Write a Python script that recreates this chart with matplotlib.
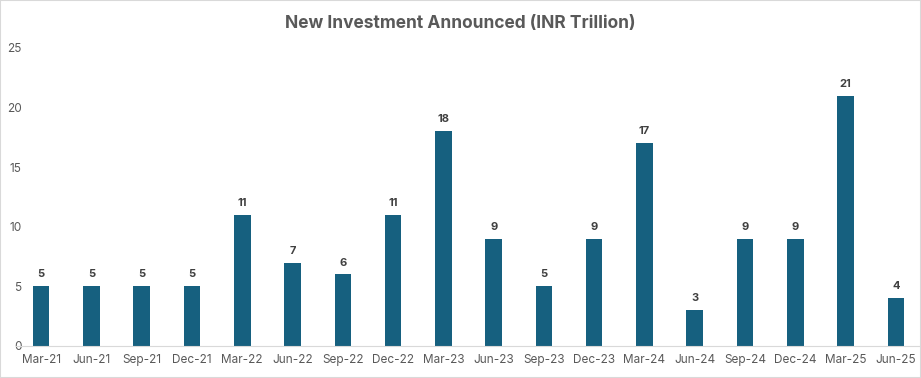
import matplotlib.pyplot as plt
from matplotlib.patches import Rectangle

plt.rcParams['font.family'] = ['Inter', 'DejaVu Sans']

quarters = ['Mar-21', 'Jun-21', 'Sep-21', 'Dec-21', 'Mar-22', 'Jun-22', 'Sep-22', 'Dec-22',
            'Mar-23', 'Jun-23', 'Sep-23', 'Dec-23', 'Mar-24', 'Jun-24', 'Sep-24', 'Dec-24',
            'Mar-25', 'Jun-25']
investment = [5, 5, 5, 5, 11, 7, 6, 11, 18, 9, 5, 9, 17, 3, 9, 9, 21, 4]
y_ticks = [0, 5, 10, 15, 20, 25]

bar_color = '#16607f'
text_grey = '#595959'

fig = plt.figure(figsize=(9.21, 3.78), dpi=100)
ax = fig.add_axes([16 / 921, 32 / 378, 905 / 921, 298 / 378])

x = range(len(quarters))
bars = ax.bar(x, investment, width=0.33, color=bar_color)
for b, v in zip(bars, investment):
    ax.annotate(str(v), (b.get_x() + b.get_width() / 2, v), xytext=(0, 5),
                textcoords='offset points', ha='center', va='bottom',
                fontsize=8, fontweight='bold', color='#404040')

ax.set_xlim(-0.5, len(quarters) - 0.5)
ax.set_ylim(0, 25)
ax.set_xticks(list(x))
ax.set_xticklabels(quarters)
ax.set_yticks(y_ticks)

for s in ['top', 'right', 'left']:
    ax.spines[s].set_visible(False)
ax.spines['bottom'].set_color('#d9d9d9')
ax.tick_params(axis='both', length=0, labelsize=8.5, labelcolor=text_grey)
ax.tick_params(axis='x', pad=6)
ax.tick_params(axis='y', pad=-4)

fig.text(0.5, 0.937, 'New Investment Announced (INR Trillion)', ha='center', va='center',
         fontsize=12.5, fontweight='bold', color=text_grey)

fig.patches.append(Rectangle((0, 0), 1, 1, transform=fig.transFigure, fill=False,
                             edgecolor='#d9d9d9', linewidth=1.5))

fig.savefig('out.png', dpi=100)
